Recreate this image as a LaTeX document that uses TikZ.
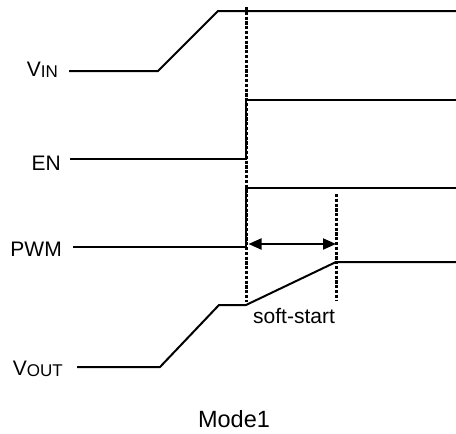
\documentclass[tikz,border=0pt]{standalone}
\usepackage{fontspec}
\setmainfont{Liberation Sans}
\usetikzlibrary{arrows.meta}
\tikzset{
  wave/.style={line width=2pt, line join=miter},
  marker/.style={line width=3pt, dash pattern=on 3.2pt off 1.6pt},
  lbl/.style={inner sep=0pt, anchor=base east, font=\fontsize{21}{24}\selectfont},
  span/.style={line width=2pt, {Triangle[length=13pt,width=11pt]}-{Triangle[length=13pt,width=11pt]}},
}
\newcommand{\subtxt}[1]{{\fontsize{17}{19}\selectfont\raisebox{-1.5pt}{#1}}}
\begin{document}
\begin{tikzpicture}[x=1pt, y=-1pt]
\useasboundingbox (0,0) rectangle (456,434);
% labels
\node[lbl] (vin) at (58,76) {V\subtxt{IN}};
\node[lbl] (en) at (61,170) {EN};
\node[lbl] (pwm) at (62,256) {PWM};
\node[lbl] (vout) at (63,375) {V\subtxt{OUT}};
\node[inner sep=0pt, anchor=base, font=\fontsize{21}{24}\selectfont] (ss) at (294,323) {soft-start};
\node[inner sep=0pt, anchor=base, font=\fontsize{23.5}{26}\selectfont] (mode) at (234,427) {Mode1};
% key coordinates
\coordinate (t0) at (246,244);
\coordinate (t1) at (336,244);
% waveforms
\draw[wave] (69,71) -- (158,71) -- (218,11) -- (456,11);
\draw[wave] (70,159) -- (246,159) -- (246,100) -- (456,100);
\draw[wave] (73,247) -- (246,247) -- (246,188) -- (456,188);
\draw[wave] (77,367) -- (160,367) -- (219,305) -- (246,305) -- (336,262) -- (456,262);
% markers
\draw[marker] (246,7) -- (246,302);
\draw[marker] (336,194) -- (336,301);
% soft-start span
\draw[span] ([xshift=2.5pt]t0) -- (t1);
\end{tikzpicture}
\end{document}
